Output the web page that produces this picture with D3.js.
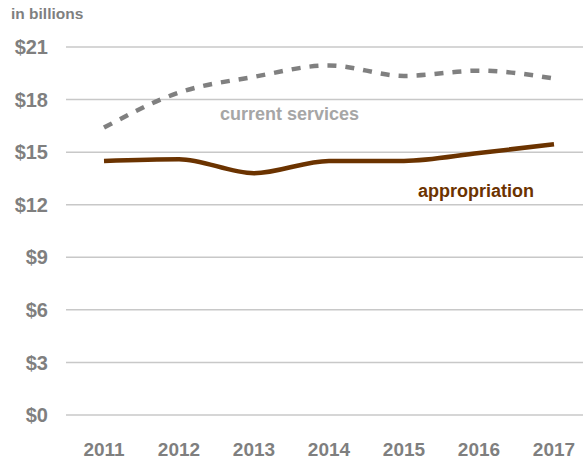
<!DOCTYPE html>
<html>
<head>
<meta charset="utf-8">
<title>appropriation vs current services</title>
<script src="https://d3js.org/d3.v7.min.js"></script>
<style>
html, body { margin: 0; padding: 0; background: #fff; }
text { font-family: "Liberation Sans", Arial, sans-serif; font-weight: bold; }
</style>
</head>
<body>
<div id="chart"></div>
<script>
// data, in billions
var years = [2011, 2012, 2013, 2014, 2015, 2016, 2017];
var currentServices = [16.4, 18.4, 19.3, 19.95, 19.35, 19.65, 19.2];
var appropriation = [14.5, 14.6, 13.8, 14.5, 14.5, 14.95, 15.45];
var yTicks = [0, 3, 6, 9, 12, 15, 18, 21];

var width = 583, height = 462;

var svg = d3.select("#chart").append("svg")
	.attr("width", width)
	.attr("height", height);

var x = d3.scalePoint()
	.domain(years)
	.range([104, 554]);

var y = d3.scaleLinear()
	.domain([0, 21])
	.range([415, 47]);

// gridlines
svg.append("g")
	.selectAll("line")
	.data(yTicks)
	.join("line")
	.attr("x1", 66)
	.attr("x2", width)
	.attr("y1", d => y(d))
	.attr("y2", d => y(d))
	.attr("stroke", "#c8c8c8")
	.attr("stroke-width", 1.5);

// y tick labels
svg.append("g")
	.selectAll("text")
	.data(yTicks)
	.join("text")
	.attr("x", 48)
	.attr("y", d => y(d))
	.attr("dy", "0.36em")
	.attr("text-anchor", "end")
	.attr("font-size", 20)
	.attr("fill", "#7f7f7f")
	.text(d => "$" + d);

// x tick labels
svg.append("g")
	.selectAll("text")
	.data(years)
	.join("text")
	.attr("x", d => x(d))
	.attr("y", 456)
	.attr("text-anchor", "middle")
	.attr("font-size", 19)
	.attr("fill", "#7f7f7f")
	.text(d => d);

svg.append("text")
	.attr("x", 11)
	.attr("y", 19)
	.attr("font-size", 15.5)
	.attr("fill", "#7f7f7f")
	.text("in billions");

var line = d3.line()
	.x((d, i) => x(years[i]))
	.y(d => y(d))
	.curve(d3.curveMonotoneX);

svg.append("path")
	.datum(currentServices)
	.attr("fill", "none")
	.attr("stroke", "#808080")
	.attr("stroke-width", 4.5)
	.attr("stroke-dasharray", "9,9")
	.attr("d", line);

svg.append("path")
	.datum(appropriation)
	.attr("fill", "none")
	.attr("stroke", "#6b3300")
	.attr("stroke-width", 4.5)
	.attr("d", line);

svg.append("text")
	.attr("x", 220)
	.attr("y", 120)
	.attr("font-size", 18)
	.attr("fill", "#a6a6a6")
	.text("current services");

svg.append("text")
	.attr("x", 418)
	.attr("y", 197)
	.attr("font-size", 18)
	.attr("fill", "#6b3300")
	.text("appropriation");
</script>
</body>
</html>
